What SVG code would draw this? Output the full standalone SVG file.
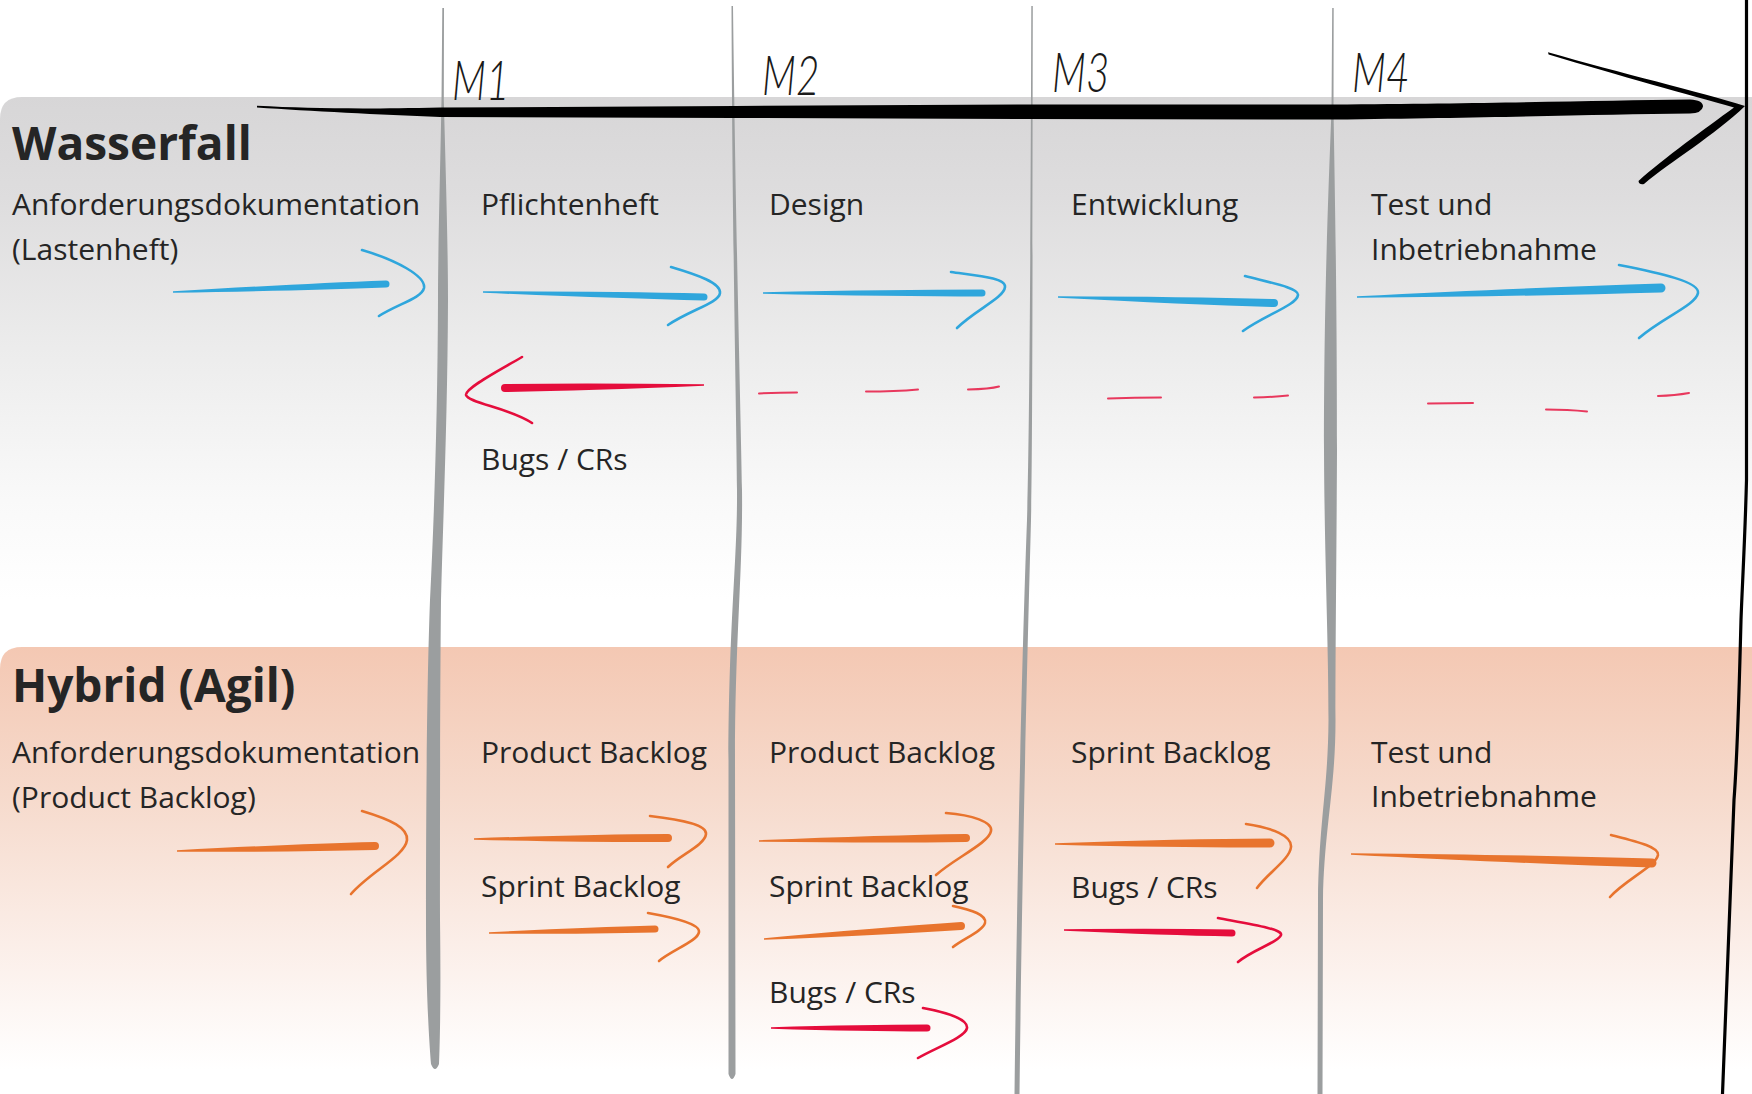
<svg xmlns="http://www.w3.org/2000/svg" width="1752" height="1094" viewBox="0 0 1752 1094">
  <defs>
    <linearGradient id="gradGray" gradientUnits="userSpaceOnUse" x1="0" y1="97" x2="0" y2="600">
      <stop offset="0" stop-color="#d7d6d7"/>
      <stop offset="0.2" stop-color="#dedddE"/>
      <stop offset="0.5" stop-color="#ececec"/>
      <stop offset="0.8" stop-color="#f9f9f9"/>
      <stop offset="1" stop-color="#ffffff"/>
    </linearGradient>
    <linearGradient id="gradOrange" gradientUnits="userSpaceOnUse" x1="0" y1="647" x2="0" y2="1070">
      <stop offset="0" stop-color="#f4c8b3"/>
      <stop offset="0.35" stop-color="#f6dacc"/>
      <stop offset="0.7" stop-color="#fbeee8"/>
      <stop offset="1" stop-color="#ffffff"/>
    </linearGradient>
    <style>
      .txt { font-family: "Open Sans", "Noto Sans", "DejaVu Sans", sans-serif; font-size: 30px; fill: #252525; }
      .head { font-family: "Open Sans", "Noto Sans", "DejaVu Sans", sans-serif; font-size: 46px; font-weight: 700; fill: #252525; }
      .mlabel { font-family: "Lato", "Inter", "DejaVu Sans", sans-serif; font-size: 56px; font-weight: 300; font-style: italic; fill: #1a1a1a; }
      .mline { fill: #9b9e9f; }
      .ink { fill: #000000; }
      .shaft-blue { fill: #2fa6dc; }
      .shaft-orange { fill: #e8742e; }
      .shaft-red { fill: #e50d3c; }
      .tip { fill: none; stroke-width: 2.6; stroke-linecap: round; stroke-linejoin: round; }
      .tip-blue { stroke: #2fa6dc; }
      .tip-orange { stroke: #e8742e; }
      .tip-red { stroke: #e50d3c; }
      .dash { fill: none; stroke: #e8385d; stroke-width: 2; stroke-linecap: round; }
    </style>
  </defs>

  <rect x="0" y="0" width="1752" height="1094" fill="#ffffff"/>

  <!-- swim lanes -->
  <g id="lane-wasserfall">
    <path d="M0,119 Q0,97 22,97 L1752,97 L1752,647 L0,647 Z" fill="url(#gradGray)"/>
  </g>
  <g id="lane-hybrid">
    <path d="M0,669 Q0,647 22,647 L1752,647 L1752,1094 L0,1094 Z" fill="url(#gradOrange)"/>
  </g>

  <!-- milestone separators -->
  <g id="milestone-m1">
    <path class="mline" d="M442.3,8 L441.5,100 C440,180 438,250 438,300 C437.5,420 434,520 430,600 C427,680 426,800 426,920 C426,990 429,1040 431,1064 Q435,1074 439,1064 C440,1040 441,990 440,920 C440,800 440,700 441,600 C443,520 447.5,420 448,300 C448,250 446,180 443.8,100 L444,8 Z"/>
    <text class="mlabel" transform="translate(452,100) scale(0.72,1)">M1</text>
  </g>
  <g id="milestone-m2">
    <path class="mline" d="M731.5,6 C732.5,250 736.5,420 737,490 C737.5,560 729,620 728.5,760 L728.5,1074 Q732,1084 735.5,1074 L735,760 C735,640 743,570 742,490 C741,420 736,250 733,6 Z"/>
    <text class="mlabel" transform="translate(762,95) scale(0.72,1)">M2</text>
  </g>
  <g id="milestone-m3">
    <path class="mline" d="M1031.3,6 C1030.5,300 1029,450 1027,520 C1024,600 1018,800 1014.5,1094 L1019.5,1094 C1023,800 1029,600 1031,520 C1032.5,450 1032.5,300 1032.8,6 Z"/>
    <text class="mlabel" transform="translate(1052,92) scale(0.72,1)">M3</text>
  </g>
  <g id="milestone-m4">
    <path class="mline" d="M1332.2,8 L1331.5,110 C1328,200 1324,300 1324,450 C1324.5,560 1328.5,640 1328.5,720 C1328,790 1319,820 1318,900 L1317.5,1094 L1322.5,1094 L1323,900 C1324,830 1335.5,790 1335.5,720 C1335.5,640 1336.5,560 1337,450 C1337,300 1335,200 1333.5,110 L1333.7,8 Z"/>
    <text class="mlabel" transform="translate(1352,92) scale(0.72,1)">M4</text>
  </g>

  <!-- time axis with arrowhead and right border -->
  <g id="timeline">
    <path class="ink" d="M257,105.8 C310,108.5 360,109.3 440,107.5 L735,106 L1020,104.5 L1333,104.5 C1500,103.5 1600,100.5 1690,99.5 Q1703,100 1703,106.5 Q1702,113 1690,113.5 C1600,114.5 1500,117.5 1333,119.5 L1020,119 L735,118 L440,117 C380,114.5 310,111 257,107.4 Z"/>
    <path class="ink" d="M1548,52.3 C1620,73 1700,92 1745,106 C1715,135 1670,162 1644,184 Q1639,185 1638.5,181 C1664,158 1706,128 1734,107.5 C1690,95 1620,76 1548.6,54.5 Z"/>
    <path d="M1746.5,0 L1746.5,480 C1745,540 1742,590 1741,620 C1739,700 1737,760 1734,800 L1722.5,1094" fill="none" stroke="#000000" stroke-width="3.2"/>
  </g>

  <!-- lane titles -->
  <g id="title-wasserfall"><text class="head" x="12" y="160">Wasserfall</text></g>
  <g id="title-hybrid"><text class="head" x="12" y="702">Hybrid (Agil)</text></g>

  <!-- waterfall phase labels -->
  <g id="wf-anforderung">
    <text class="txt" x="12" y="215">Anforderungsdokumentation</text>
    <text class="txt" x="12" y="260">(Lastenheft)</text>
  </g>
  <g id="wf-pflichtenheft"><text class="txt" x="481" y="215">Pflichtenheft</text></g>
  <g id="wf-design"><text class="txt" x="769" y="215">Design</text></g>
  <g id="wf-entwicklung"><text class="txt" x="1071" y="215">Entwicklung</text></g>
  <g id="wf-test">
    <text class="txt" x="1371" y="215">Test und</text>
    <text class="txt" x="1371" y="260">Inbetriebnahme</text>
  </g>
  <g id="wf-bugs"><text class="txt" x="481" y="470">Bugs / CRs</text></g>

  <!-- hybrid phase labels -->
  <g id="hy-anforderung">
    <text class="txt" x="12" y="763">Anforderungsdokumentation</text>
    <text class="txt" x="12" y="808">(Product Backlog)</text>
  </g>
  <g id="hy-m1">
    <text class="txt" x="481" y="763">Product Backlog</text>
    <text class="txt" x="481" y="897">Sprint Backlog</text>
  </g>
  <g id="hy-m2">
    <text class="txt" x="769" y="763">Product Backlog</text>
    <text class="txt" x="769" y="897">Sprint Backlog</text>
    <text class="txt" x="769" y="1003">Bugs / CRs</text>
  </g>
  <g id="hy-m3">
    <text class="txt" x="1071" y="763">Sprint Backlog</text>
    <text class="txt" x="1071" y="898">Bugs / CRs</text>
  </g>
  <g id="hy-test">
    <text class="txt" x="1371" y="763">Test und</text>
    <text class="txt" x="1371" y="807">Inbetriebnahme</text>
  </g>

  <!-- hand-drawn arrows -->
  <g id="connectors">
    <!-- waterfall forward flow -->
    <path class="shaft-blue" d="M173,291.2 Q301,283.7 386,280.5 A3.5,3.5 0 0 1 386,287.5 Q301,290.7 173,292.8Z"/>
    <path class="tip tip-blue" d="M362,250 C396,260 426,276 424,288 C422,298 398,304 379,316"/>
    <path class="shaft-blue" d="M483,291.2 Q616,291.5 704,293.5 A3.5,3.5 0 0 1 704,300.5 Q616,298.5 483,292.8Z"/>
    <path class="tip tip-blue" d="M671,267 C698,275 721,283 720,293 C719,303 690,310 668,325"/>
    <path class="shaft-blue" d="M763,292.2 Q894,289.5 982,289.5 A3.5,3.5 0 0 1 982,296.5 Q894,296.5 763,293.8Z"/>
    <path class="tip tip-blue" d="M951,272 C980,276 1006,278 1005,287 C1004,298 975,310 957,328"/>
    <path class="shaft-blue" d="M1058,296.2 Q1188,296.6 1274,299 A4,4 0 0 1 1274,307 Q1188,304.6 1058,297.8Z"/>
    <path class="tip tip-blue" d="M1245,276 C1272,283 1299,288 1298,295 C1297,305 1265,315 1243,331"/>
    <path class="shaft-blue" d="M1357,296.2 Q1539,287.1 1661,283.5 A4.5,4.5 0 0 1 1661,292.5 Q1539,296.1 1357,297.8Z"/>
    <path class="tip tip-blue" d="M1619,265 C1660,273 1700,282 1698,293 C1696,305 1662,318 1639,338"/>

    <!-- waterfall feedback (bugs / CRs) -->
    <path class="shaft-red" d="M704,384.2 Q585,382.8 505,384 A4,4 0 0 0 505,392 Q585,390.8 704,385.8Z"/>
    <path class="tip tip-red" d="M522,357 C500,370 465,388 466,395 C468,403 510,408 532,423"/>
    <path class="dash" d="M759,393.5 Q780,392.5 797,392.5"/>
    <path class="dash" d="M866,391.5 Q895,391.5 918,389.5"/>
    <path class="dash" d="M968,389.5 Q990,389 999,386.5"/>
    <path class="dash" d="M1108,398.5 Q1135,397.5 1161,397.5"/>
    <path class="dash" d="M1254,397.5 Q1275,397 1288,395.5"/>
    <path class="dash" d="M1428,403.5 Q1452,403 1473,403"/>
    <path class="dash" d="M1546,409.5 Q1568,409.5 1587,411.5"/>
    <path class="dash" d="M1658,396 Q1675,395.5 1689,393"/>

    <!-- hybrid flow -->
    <path class="shaft-orange" d="M177,850.2 Q296,844 375,842 A4,4 0 0 1 375,850 Q296,852 177,851.8Z"/>
    <path class="tip tip-orange" d="M362,811 C392,820 408,828 407,840 C405,856 370,872 351,894"/>
    <path class="shaft-orange" d="M474,838.2 Q590,834.4 668,834 A4,4 0 0 1 668,842 Q590,842.4 474,839.8Z"/>
    <path class="tip tip-orange" d="M650,816 C684,820 707,825 706,834 C705,845 680,855 668,867"/>
    <path class="shaft-orange" d="M489,932.2 Q589,927.1 655,925.5 A3.5,3.5 0 0 1 655,932.5 Q589,934.1 489,933.8Z"/>
    <path class="tip tip-orange" d="M648,913 C676,918 700,924 699,932 C698,941 672,950 659,961"/>
    <path class="shaft-orange" d="M759,840.2 Q883,835.2 966,834 A4,4 0 0 1 966,842 Q883,843.2 759,841.8Z"/>
    <path class="tip tip-orange" d="M946,813 C972,815 993,822 991,831 C989,843 955,858 936,875"/>
    <path class="shaft-orange" d="M764,938.2 Q882,927.2 961,922 A4,4 0 0 1 961,930 Q882,935.2 764,939.8Z"/>
    <path class="tip tip-orange" d="M953,906 C972,910 987,915 985,923 C983,931 963,939 953,947"/>
    <path class="shaft-red" d="M771,1027.2 Q865,1024.5 927,1024.5 A3.5,3.5 0 0 1 927,1031.5 Q865,1031.5 771,1028.8Z"/>
    <path class="tip tip-red" d="M923,1008 C950,1013 968,1020 967,1028 C966,1037 935,1048 918,1058"/>
    <path class="shaft-orange" d="M1055,843.2 Q1184,838.9 1270,838.5 A4.5,4.5 0 0 1 1270,847.5 Q1184,847.9 1055,844.8Z"/>
    <path class="tip tip-orange" d="M1246,824 C1273,828 1292,836 1291,847 C1290,859 1268,873 1257,888"/>
    <path class="shaft-red" d="M1064,929.2 Q1165,928.3 1232,929.5 A3.5,3.5 0 0 1 1232,936.5 Q1165,935.3 1064,930.8Z"/>
    <path class="tip tip-red" d="M1218,918 C1250,924 1283,929 1281,935 C1279,942 1252,950 1238,962"/>
    <path class="shaft-orange" d="M1351,853.2 Q1532,854.9 1652,858.5 A4.5,4.5 0 0 1 1652,867.5 Q1532,863.9 1351,854.8Z"/>
    <path class="tip tip-orange" d="M1611,835 C1638,842 1659,847 1658,855 C1656,866 1625,880 1610,897"/>
  </g>
</svg>
